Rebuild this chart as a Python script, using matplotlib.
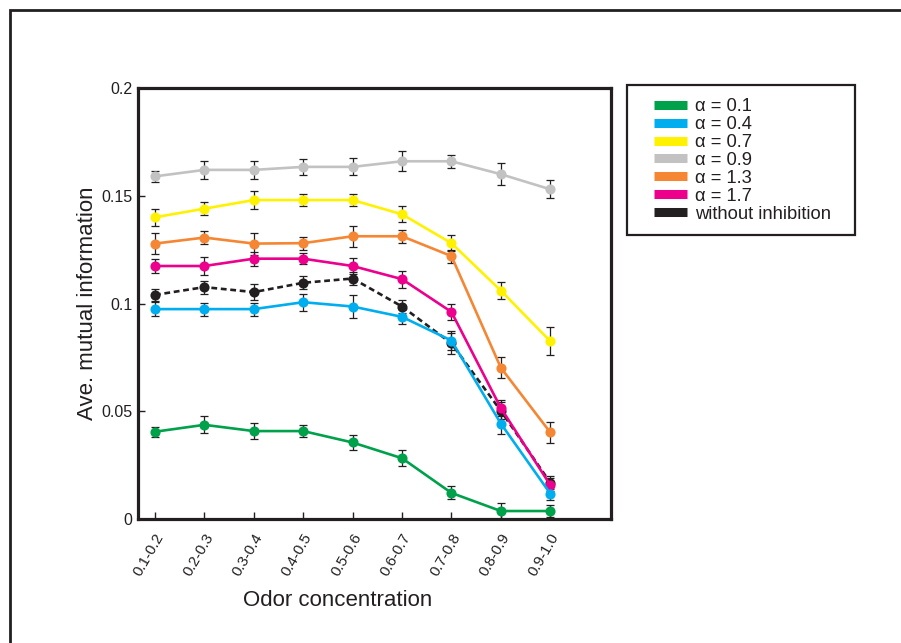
import matplotlib
matplotlib.use("Agg")
from matplotlib import pyplot as plt
from matplotlib.lines import Line2D
from matplotlib.patches import Rectangle
from matplotlib.transforms import ScaledTranslation

plt.rcParams['font.family'] = ['Liberation Sans', 'DejaVu Sans']

INK = "#231f20"

concentrations = ["0.1-0.2", "0.2-0.3", "0.3-0.4", "0.4-0.5", "0.5-0.6",
                  "0.6-0.7", "0.7-0.8", "0.8-0.9", "0.9-1.0"]

# mean values per alpha
mi_01 = [0.0405, 0.0437, 0.0408, 0.0408, 0.0355, 0.0282, 0.0121, 0.0037, 0.0037]
mi_04 = [0.0974, 0.0974, 0.0974, 0.1006, 0.0986, 0.0938, 0.0828, 0.0443, 0.0118]
mi_07 = [0.1400, 0.1440, 0.1480, 0.1480, 0.1480, 0.1414, 0.1280, 0.1060, 0.0825]
mi_09 = [0.1590, 0.1620, 0.1620, 0.1634, 0.1634, 0.1660, 0.1660, 0.1600, 0.1530]
mi_13 = [0.1278, 0.1306, 0.1278, 0.1280, 0.1312, 0.1312, 0.1220, 0.0702, 0.0402]
mi_17 = [0.1174, 0.1174, 0.1208, 0.1208, 0.1174, 0.1113, 0.0961, 0.0515, 0.0158]
mi_none = [0.1040, 0.1076, 0.1053, 0.1096, 0.1116, 0.0986, 0.0815, 0.0502, 0.0169]

# error bar half widths
err_01 = [0.0023, 0.0039, 0.0037, 0.0027, 0.0037, 0.0037, 0.0030, 0.0037, 0.0030]
err_04 = [0.0033, 0.0030, 0.0030, 0.0039, 0.0053, 0.0035, 0.0046, 0.0050, 0.0030]
err_07 = [0.0040, 0.0030, 0.0040, 0.0027, 0.0027, 0.0038, 0.0037, 0.0038, 0.0064]
err_09 = [0.0027, 0.0040, 0.0040, 0.0038, 0.0040, 0.0047, 0.0029, 0.0050, 0.0042]
err_13 = [0.0050, 0.0031, 0.0051, 0.0030, 0.0049, 0.0030, 0.0030, 0.0049, 0.0050]
err_17 = [0.0031, 0.0040, 0.0033, 0.0025, 0.0035, 0.0040, 0.0037, 0.0039, 0.0030]
err_none = [0.0028, 0.0030, 0.0039, 0.0031, 0.0030, 0.0031, 0.0050, 0.0040, 0.0030]

labels = ["α = 0.1", "α = 0.4", "α = 0.7", "α = 0.9", "α = 1.3", "α = 1.7",
          "without inhibition"]
colors = ["#00a14b", "#00aeef", "#fff200", "#c2c2c2", "#f58634", "#ec008c", INK]

series = [(mi_09, err_09, colors[3], "-"),
          (mi_07, err_07, colors[2], "-"),
          (mi_13, err_13, colors[4], "-"),
          (mi_none, err_none, colors[6], (0, (2.2, 1.4))),
          (mi_17, err_17, colors[5], "-"),
          (mi_04, err_04, colors[1], "-"),
          (mi_01, err_01, colors[0], "-")]

fig = plt.figure(figsize=(9.01, 6.43), dpi=100)
ax = fig.add_axes([138 / 901, 1 - 519 / 643, 473 / 901, 431 / 643])

x = list(range(len(concentrations)))
for vals, errs, col, ls in series:
    ax.errorbar(x, vals, yerr=errs, fmt="none", ecolor=INK, elinewidth=0.9,
                capsize=3.2, capthick=0.9, zorder=2)
    ax.plot(x, vals, color=col, linestyle=ls, linewidth=1.9, marker="o",
            markersize=7.3, markeredgewidth=0, zorder=3)

ax.set_xlim(-0.344, 9.23)
ax.set_ylim(0, 0.2)
ax.set_yticks([0, 0.05, 0.1, 0.15, 0.2])
ax.set_yticklabels(["0", "0.05", "0.1", "0.15", "0.2"])
ax.set_xticks(x)
ax.set_xticklabels(concentrations, rotation=60, ha="right", va="center",
                   rotation_mode="anchor")
ax.tick_params(direction="in", length=5, width=1, color=INK, labelcolor=INK,
               labelsize=11.5)
ax.tick_params(axis="x", pad=11, labelsize=10.8)
ax.tick_params(axis="y", pad=4)
shift = ScaledTranslation(4 / 72, 0, fig.dpi_scale_trans)
for lab in ax.get_xticklabels():
    lab.set_transform(lab.get_transform() + shift)
for sp in ax.spines.values():
    sp.set_linewidth(2.3)
    sp.set_color(INK)

ax.set_xlabel("Odor concentration", fontsize=16, color=INK)
ax.xaxis.set_label_coords(0.422, -0.165)
ax.set_ylabel("Ave. mutual information", fontsize=16, color=INK)
ax.yaxis.set_label_coords(-0.085, 0.5)

# legend box and entries
fig.patches.append(Rectangle((627 / 901, 1 - 235 / 643), 228 / 901, 150 / 643,
                             transform=fig.transFigure, fill=False,
                             edgecolor=INK, linewidth=1.6))
handles = [Line2D([], [], color=c, linewidth=6.5, solid_capstyle="butt")
           for c in colors]
fig.legend(handles, labels, loc="upper left",
           bbox_to_anchor=(645 / 901, 1 - 89 / 643), frameon=False,
           fontsize=13.2, handlelength=1.8, handletextpad=0.45,
           labelspacing=0.05, borderpad=0, labelcolor=INK)

# outer frame
fig.patches.append(Rectangle((10 / 901, -0.1), 1.2, 1 - 10 / 643 + 0.1,
                             transform=fig.transFigure, fill=False,
                             edgecolor=INK, linewidth=2))

fig.savefig("out.png", dpi=100)
